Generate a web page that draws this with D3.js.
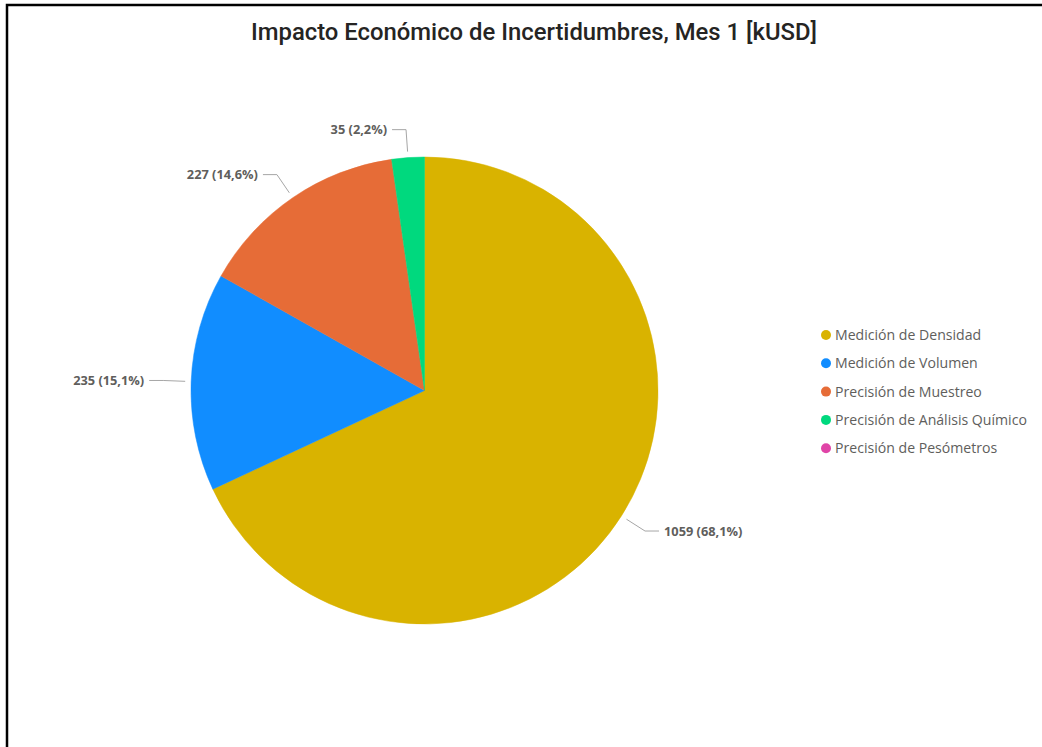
<!DOCTYPE html>
<html>
<head>
<meta charset="utf-8">
<script src="https://cdn.jsdelivr.net/npm/d3@7"></script>
<style>
  html, body { margin: 0; padding: 0; background: #fff; }
  svg { display: block; }
</style>
</head>
<body>
<svg id="chart" width="1042" height="747"></svg>
<script>
// Economic impact per uncertainty source, month 1 (kUSD)
const categories = [
  "Medición de Densidad",
  "Medición de Volumen",
  "Precisión de Muestreo",
  "Precisión de Análisis Químico",
  "Precisión de Pesómetros"
];
const values = [1059, 235, 227, 35, 0];
const colors = ["#D9B300", "#118DFF", "#E66C37", "#00D97E", "#E044A7"];
const title = "Impacto Económico de Incertidumbres, Mes 1 [kUSD]";

const svg = d3.select("#chart");
const W = 1042, H = 747;

// frame
svg.append("rect")
  .attr("x", 7).attr("y", 5)
  .attr("width", W + 10).attr("height", H + 10)
  .attr("fill", "none").attr("stroke", "#000").attr("stroke-width", 2.5);

// title
svg.append("text")
  .attr("x", 534).attr("y", 40)
  .attr("text-anchor", "middle")
  .attr("font-family", "Roboto, 'Noto Sans', sans-serif")
  .attr("font-weight", 500)
  .attr("font-size", 23.5)
  .attr("fill", "#252423")
  .attr("textLength", 566)
  .attr("lengthAdjust", "spacingAndGlyphs")
  .text(title);

const data = categories.map((c, i) => ({ name: c, value: values[i], color: colors[i] }));
const total = d3.sum(values);

const cx = 424.5, cy = 390.5, r = 233.5;
const g = svg.append("g").attr("transform", `translate(${cx},${cy})`);

const pie = d3.pie().value(d => d.value).sort(null);
const arcs = pie(data);
const arc = d3.arc().innerRadius(0).outerRadius(r);

g.selectAll("path.slice")
  .data(arcs.filter(d => d.data.value > 0))
  .join("path")
  .attr("class", "slice")
  .attr("d", arc)
  .attr("fill", d => d.data.color)
  .attr("stroke", d => d.data.color)
  .attr("stroke-width", 0.5);

// data labels with leader lines
const inner = d3.arc().innerRadius(r + 6).outerRadius(r + 6);
const outer = d3.arc().innerRadius(r + 28).outerRadius(r + 28);
const fmtPct = v => d3.format(".1f")(v).replace(".", ",");

arcs.filter(d => d.data.value > 0).forEach(d => {
  const mid = (d.startAngle + d.endAngle) / 2;
  const p1 = inner.centroid(d);
  const p2 = outer.centroid(d);
  const side = Math.sin(mid) >= 0 ? 1 : -1;
  const p3 = [p2[0] + side * 14, p2[1]];
  g.append("polyline")
    .attr("points", [p1, p2, p3].map(p => p.join(",")).join(" "))
    .attr("fill", "none")
    .attr("stroke", "#A6A6A6")
    .attr("stroke-width", 1);
  g.append("text")
    .attr("x", p3[0] + side * 5)
    .attr("y", p3[1])
    .attr("dy", "0.35em")
    .attr("text-anchor", side > 0 ? "start" : "end")
    .attr("font-family", "'Open Sans', 'Noto Sans', sans-serif")
    .attr("font-weight", 700)
    .attr("font-size", 12.8)
    .attr("fill", "#605E5C")
    .text(`${d.data.value} (${fmtPct(d.data.value / total * 100)}%)`);
});

// legend
const legend = svg.append("g").attr("transform", "translate(826,335)");
const rows = legend.selectAll("g")
  .data(data)
  .join("g")
  .attr("transform", (d, i) => `translate(0,${i * 28.3})`);
rows.append("circle")
  .attr("r", 5)
  .attr("fill", d => d.color);
rows.append("text")
  .attr("x", 9)
  .attr("dy", "0.35em")
  .attr("font-family", "'Open Sans', 'Noto Sans', sans-serif")
  .attr("font-size", 14.1)
  .attr("fill", "#605E5C")
  .text(d => d.name);
</script>
</body>
</html>
